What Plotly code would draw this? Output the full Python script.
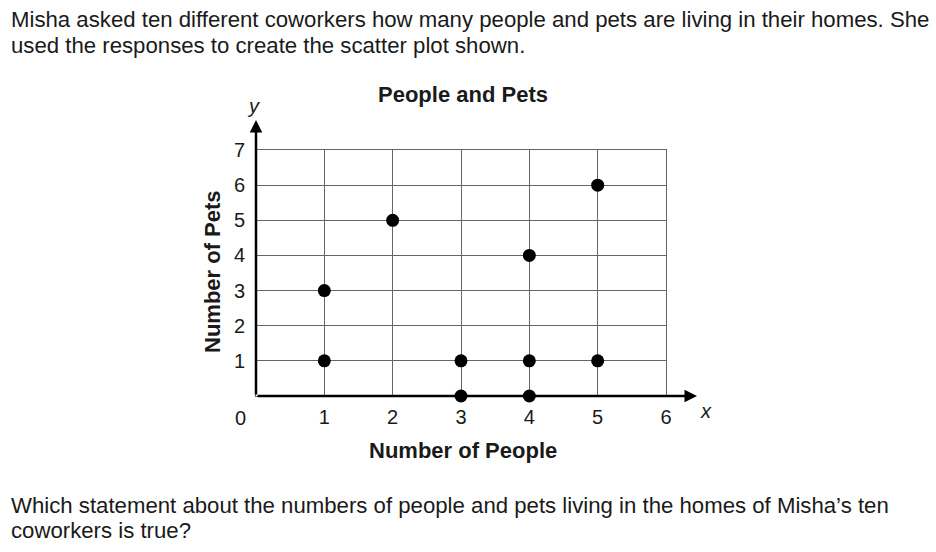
import plotly.graph_objects as go

# Data
people = [1, 1, 2, 3, 3, 4, 4, 4, 5, 5]
pets = [1, 3, 5, 0, 1, 0, 1, 4, 1, 6]
x_ticks = [1, 2, 3, 4, 5, 6]
y_ticks = [1, 2, 3, 4, 5, 6, 7]

W, H = 936, 552
L, R, T, B = 256, 666, 150, 396  # plot area in pixels
FONT = "Liberation Sans, Arial, sans-serif"
TXT = "#1a1a1a"

def px(xp):
    return (xp - L) / (R - L)

def py(yp):
    return (B - yp) / (B - T)

fig = go.Figure()
fig.add_trace(go.Scatter(
    x=people, y=pets, mode="markers",
    marker=dict(color="black", size=13),
    cliponaxis=False, showlegend=False, hoverinfo="x+y"))

axis_common = dict(
    showgrid=True, gridcolor="#666666", gridwidth=1,
    zeroline=False, showline=True, linecolor="#666666", linewidth=1, mirror=True,
    ticks="", tickfont=dict(family=FONT, size=20, color=TXT),
    fixedrange=True,
)
fig.update_xaxes(range=[0, 6], tickvals=x_ticks, ticktext=[str(v) for v in x_ticks],
                 ticklabelstandoff=3, **axis_common)
fig.update_yaxes(range=[0, 7], tickvals=y_ticks, ticktext=[str(v) for v in y_ticks],
                 ticklabelstandoff=6, **axis_common)

ann = []
# axis arrows (thick black axes), data-referenced
x_end = (697 - L) / (R - L) * 6
y_end = (B - 120) / (B - T) * 7
ann.append(dict(x=x_end, y=0, xref="x", yref="y", ax=0, ay=0, axref="x", ayref="y",
                showarrow=True, arrowhead=2, arrowsize=1.0, arrowwidth=2.5, arrowcolor="black", text=""))
ann.append(dict(x=0, y=y_end, xref="x", yref="y", ax=0, ay=0, axref="x", ayref="y",
                showarrow=True, arrowhead=2, arrowsize=1.0, arrowwidth=2.5, arrowcolor="black", text=""))

def label(xp, yp, text, size=20, angle=0, xanchor="center"):
    return dict(x=px(xp), y=py(yp), xref="paper", yref="paper", text=text, showarrow=False,
                xanchor=xanchor, yanchor="middle", textangle=angle,
                font=dict(family=FONT, size=size, color=TXT))

ann.append(label(706, 411, "<i>x</i>", 20))
ann.append(label(253, 106, "<i>y</i>", 20))
ann.append(label(240, 418, "0", 20))
ann.append(label(463, 95, "<b>People and Pets</b>", 22))
ann.append(label(463, 450, "<b>Number of People</b>", 22))
ann.append(label(212, 272, "<b>Number of Pets</b>", 22, -90))

# question text, one annotation per line
QS = 22.2
ann.append(label(9, 20, "Misha asked ten different coworkers how many people and pets are living in their homes. She", QS, xanchor="left"))
ann.append(label(9, 45, "used the responses to create the scatter plot shown.", QS, xanchor="left"))
ann.append(label(9, 505, "Which statement about the numbers of people and pets living in the homes of Misha’s ten", QS, xanchor="left"))
ann.append(label(9, 530, "coworkers is true?", QS, xanchor="left"))

fig.update_layout(
    width=W, height=H,
    margin=dict(l=L, r=W - R, t=T, b=H - B, pad=0),
    paper_bgcolor="white", plot_bgcolor="white",
    annotations=ann, showlegend=False,
)
fig.write_html("out.html", config={"displayModeBar": False})
